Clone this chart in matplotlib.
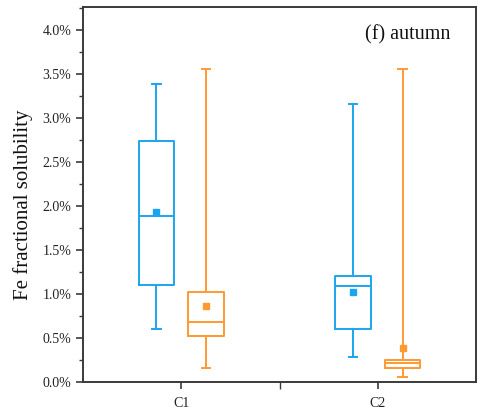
import matplotlib
matplotlib.use("Agg")
import matplotlib.pyplot as plt
from matplotlib.ticker import FuncFormatter, MultipleLocator, FixedLocator

plt.rcParams['font.family'] = ['Liberation Serif', 'DejaVu Serif']

# Box statistics (Fe fractional solubility, %)
sites = ["C1", "C2"]
blue_whislo = [0.60, 0.28]
blue_q1 = [1.10, 0.60]
blue_med = [1.89, 1.09]
blue_q3 = [2.74, 1.20]
blue_whishi = [3.38, 3.16]
blue_mean = [1.93, 1.02]

orange_whislo = [0.16, 0.06]
orange_q1 = [0.52, 0.16]
orange_med = [0.68, 0.22]
orange_q3 = [1.02, 0.25]
orange_whishi = [3.56, 3.56]
orange_mean = [0.86, 0.39]

blue = '#1AA5F0'
orange = '#FF9A33'

fig = plt.figure(figsize=(4.84, 4.17), dpi=100)
ax = fig.add_axes([0.1715, 0.0839, 0.812, 0.8993])

def stats(lo, q1, med, q3, hi, mean):
    return [dict(whislo=a, q1=b, med=c, q3=d, whishi=e, mean=f, fliers=[])
            for a, b, c, d, e, f in zip(lo, q1, med, q3, hi, mean)]

centers = [1, 2]
offset = 0.126
width = 0.18

for st, col, sign in [
    (stats(blue_whislo, blue_q1, blue_med, blue_q3, blue_whishi, blue_mean), blue, -1),
    (stats(orange_whislo, orange_q1, orange_med, orange_q3, orange_whishi, orange_mean), orange, 1),
]:
    pos = [c + sign * offset for c in centers]
    lp = dict(color=col, linewidth=1.4)
    ax.bxp(st, positions=pos, widths=width, showmeans=True, showfliers=False,
           boxprops=lp, whiskerprops=lp, capprops=lp, medianprops=lp,
           meanprops=dict(marker='s', markersize=4, markerfacecolor=col,
                          markeredgecolor=col),
           capwidths=0.045, manage_ticks=False)

ax.set_xlim(0.5, 2.5)
ax.set_ylim(0, 4.26)
ax.xaxis.set_major_locator(FixedLocator(centers))
ax.set_xticklabels(sites)
ax.xaxis.set_minor_locator(FixedLocator([1.5]))
ax.yaxis.set_major_locator(MultipleLocator(0.5))
ax.yaxis.set_minor_locator(MultipleLocator(0.25))
ax.yaxis.set_major_formatter(FuncFormatter(lambda v, p: f"{v:.1f}%"))

spine_col = '#3a3a3a'
for s in ax.spines.values():
    s.set_color(spine_col)
    s.set_linewidth(1.4)
ax.tick_params(which='major', direction='out', length=5, width=1.2,
               colors=spine_col, labelcolor='#222222', labelsize=10)
ax.tick_params(which='minor', direction='out', length=3, width=1.0, colors=spine_col)
ax.tick_params(axis='x', which='both', length=5, pad=6)

ax.set_ylabel("Fe fractional solubility", fontsize=15, color='#111111')
ax.yaxis.set_label_coords(-0.128, 0.472)
ax.text(0.935, 0.925, "(f) autumn", transform=ax.transAxes, ha='right', va='center',
        fontsize=14.5, color='#111111')

fig.savefig("out.png", dpi=100)
